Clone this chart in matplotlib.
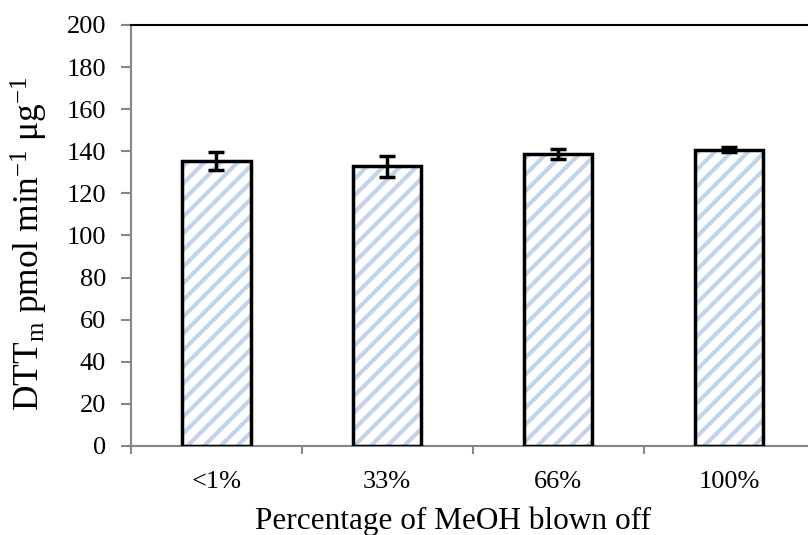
import numpy as np
import matplotlib
matplotlib.use("Agg")
import matplotlib.pyplot as plt

# 数据
categories = ["<1%", "33%", "66%", "100%"]
dtt_values = [135.3, 132.8, 138.5, 140.8]
dtt_errors = [4.4, 5.0, 2.4, 1.2]

# 字体设置 (Times 风格)
plt.rcParams['font.family'] = ['Liberation Serif', 'DejaVu Serif']
plt.rcParams['mathtext.fontset'] = 'custom'
plt.rcParams['mathtext.rm'] = 'Liberation Serif'
plt.rcParams['mathtext.it'] = 'Liberation Serif:italic'
plt.rcParams['hatch.linewidth'] = 3.0

fig = plt.figure(figsize=(8.08, 5.35), dpi=100)
ax = fig.add_axes([0.162, 0.1664, 0.846, 0.787])

x = np.arange(len(categories))
bar_width = 0.40

# 斜线填充 (浅蓝)
ax.bar(x, dtt_values, width=bar_width, color='white', edgecolor='#C2D4EA',
       hatch='//', linewidth=0, zorder=2)
# 黑色边框
ax.bar(x, dtt_values, width=bar_width, color='none', edgecolor='black',
       linewidth=2.5, zorder=3)
# 误差线
ax.errorbar(x, dtt_values, yerr=dtt_errors, fmt='none', ecolor='black',
            elinewidth=2.5, capsize=6, capthick=2.5, zorder=4)

# 坐标轴范围与刻度
ax.set_xlim(-0.5, len(categories) - 0.5)
ax.set_ylim(0, 200)
ax.set_yticks(np.arange(0, 201, 20))
ax.set_xticks(x)
ax.set_xticklabels(categories)
ax.set_xticks(np.arange(-0.5, len(categories) - 0.5, 1.0), minor=True)

ax.tick_params(axis='y', which='major', direction='out', length=7, width=1.5,
               color='#868686', labelsize=19, pad=11)
ax.tick_params(axis='x', which='major', length=0, labelsize=19, pad=18)
ax.tick_params(axis='x', which='minor', direction='out', length=6, width=1.5,
               color='#868686')

# 边框
for side in ['left', 'bottom']:
    ax.spines[side].set_color('#868686')
    ax.spines[side].set_linewidth(1.5)
ax.spines['top'].set_color('black')
ax.spines['top'].set_linewidth(1.5)
ax.spines['right'].set_visible(False)

# 标题
ax.set_xlabel('Percentage of MeOH blown off', fontsize=22.5)
ax.xaxis.set_label_coords(0.471, -0.143)
ax.set_ylabel(r'DTT$_\mathrm{m}$ pmol min$^{\mathrm{-1}}$ $\mathrm{\mu}$g$^{\mathrm{-1}}$',
              fontsize=25.5)
ax.yaxis.set_label_coords(-0.118, 0.48)

fig.savefig('out.png', dpi=100)
